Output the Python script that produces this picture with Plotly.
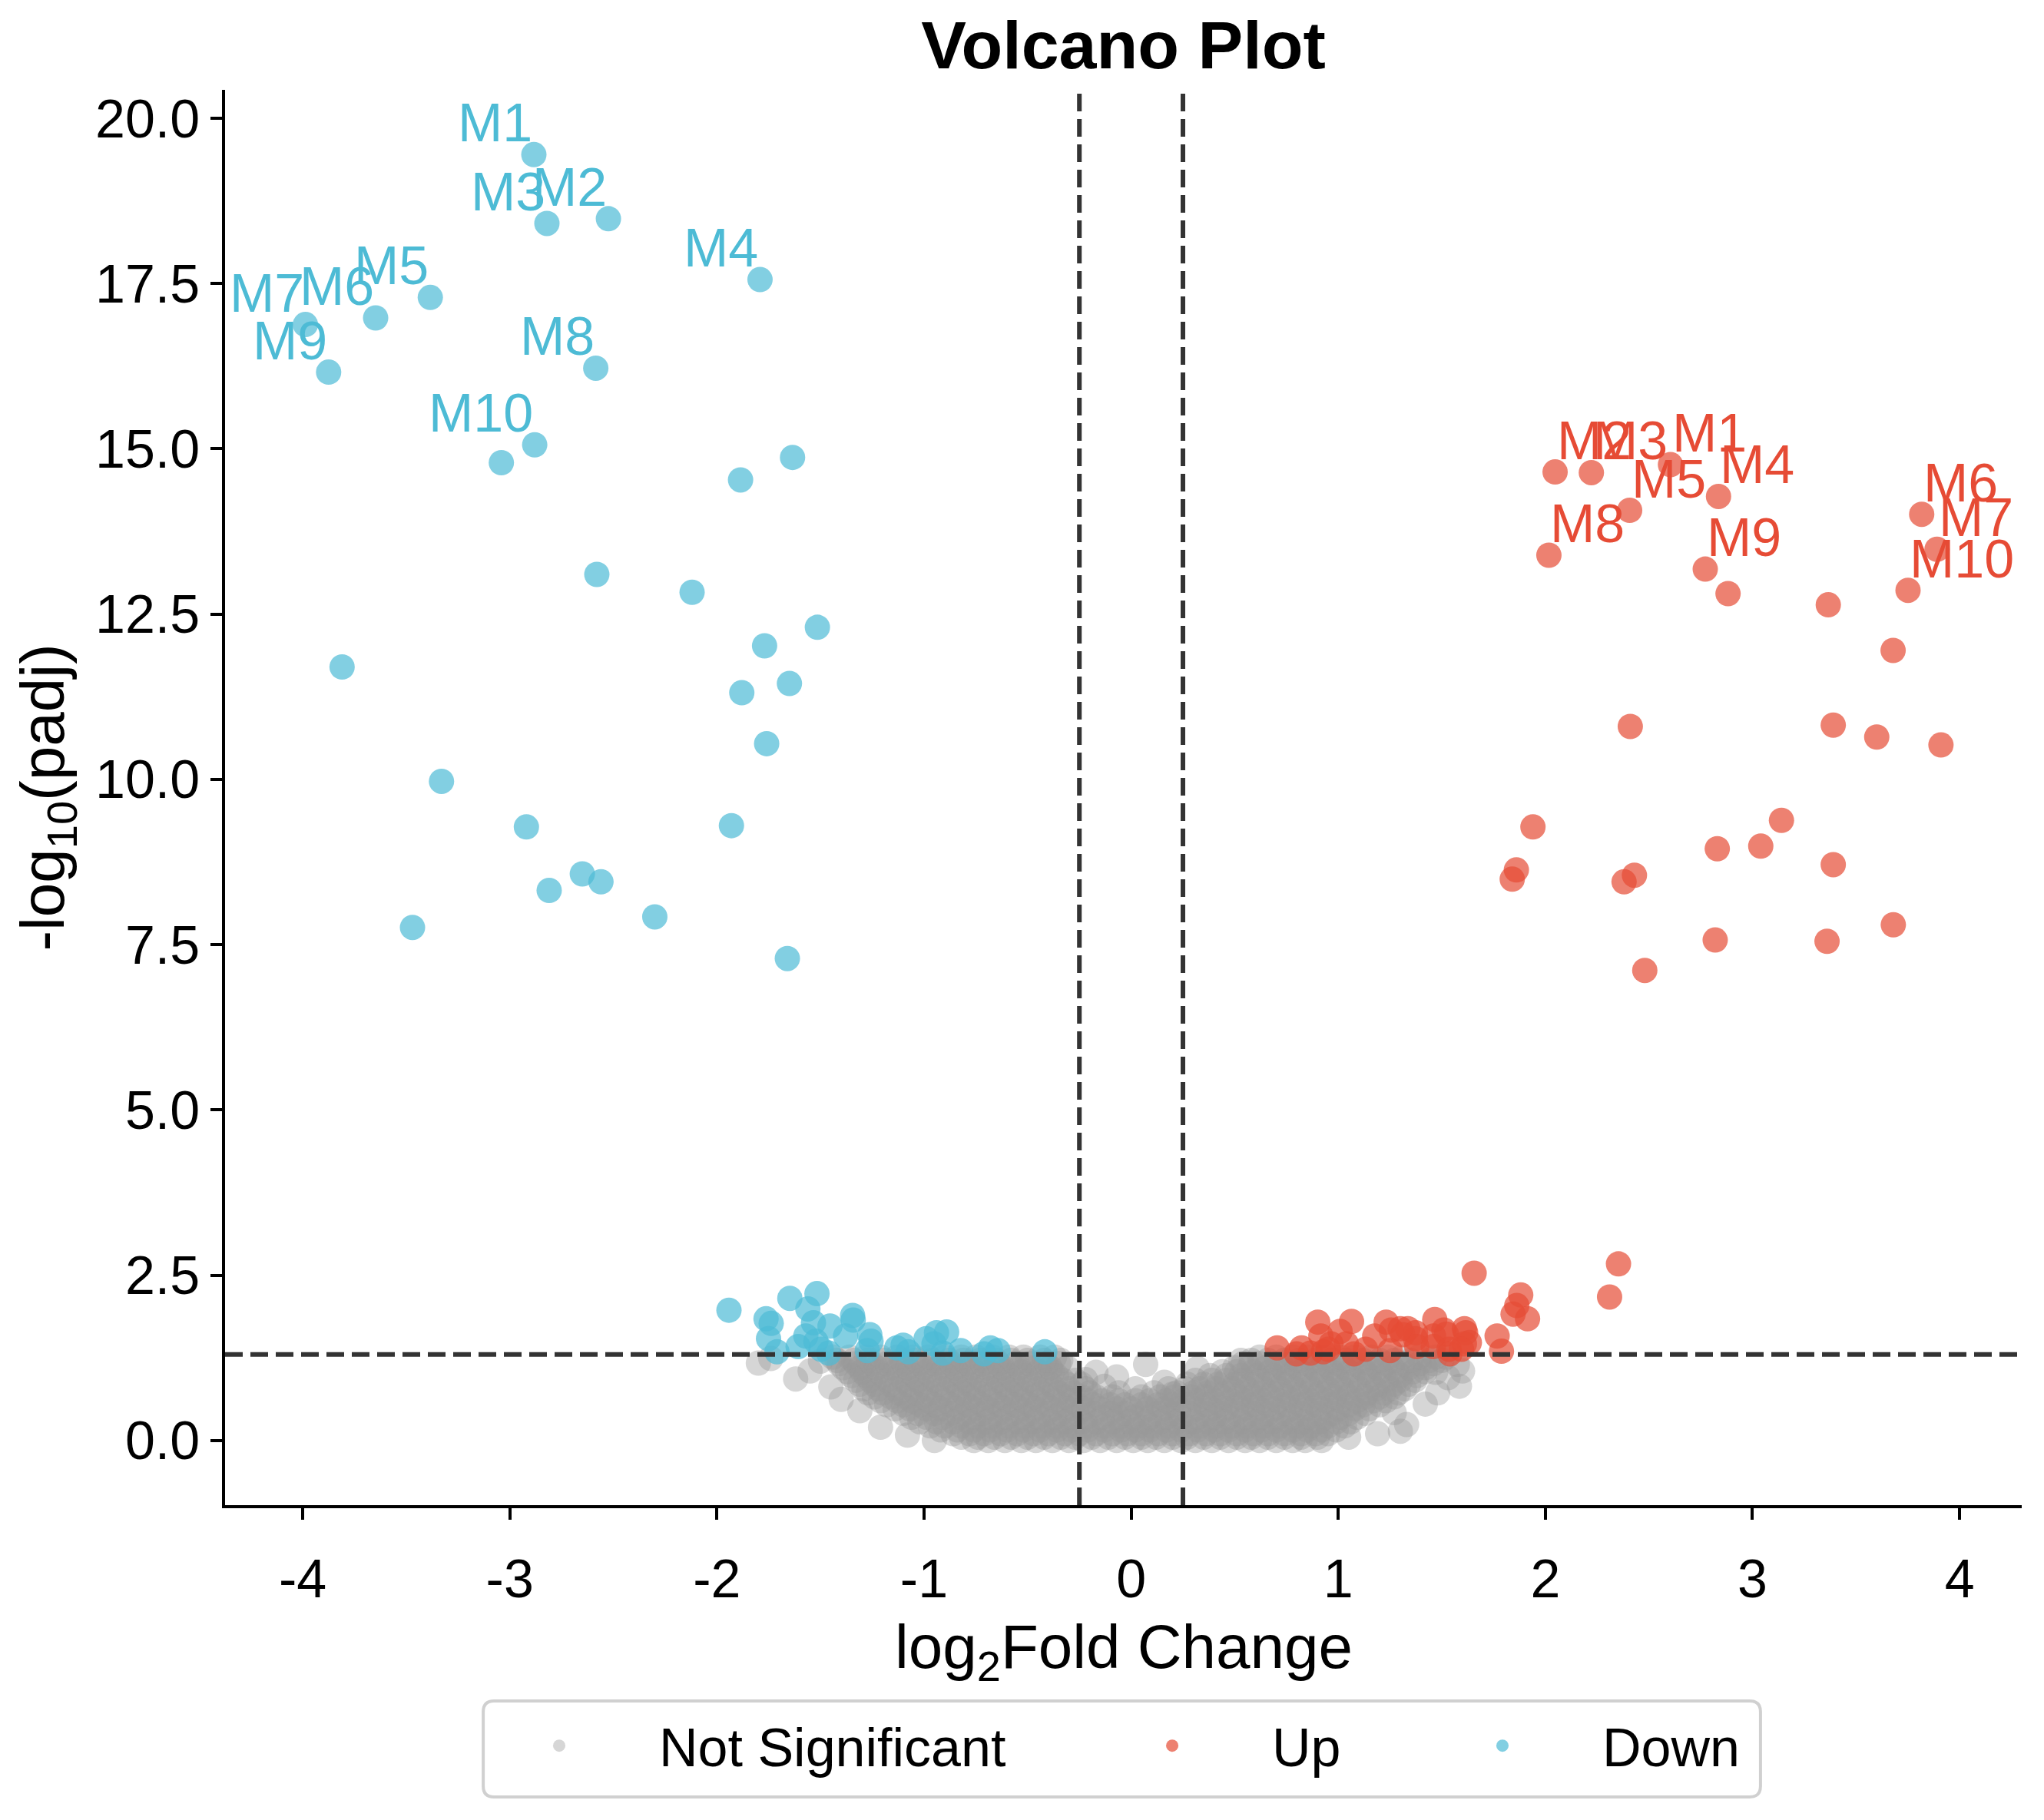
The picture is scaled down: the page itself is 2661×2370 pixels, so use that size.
import plotly.graph_objects as go

# ---------------- data ----------------
label_names = ["M1", "M2", "M3", "M4", "M5", "M6", "M7", "M8", "M9", "M10"]

# Down-regulated (first 10 are the labelled M1..M10)
down_x = [-2.884, -2.524, -2.821, -1.792, -3.384, -3.648, -3.987, -2.585, -3.875, -2.880,
          -3.041, -1.635, -1.886, -2.58, -2.12, -1.515, -1.77, -3.81, -1.65, -1.88,
          -1.76, -3.33, -2.92, -1.93, -2.65, -2.56, -2.81, -2.30, -3.47, -1.66,
          -1.942, -1.763, -1.738, -1.648, -1.517, -1.561, -1.751, -1.710, -1.534, -1.454,
          -1.345, -1.342, -1.379, -1.571, -1.608, -1.522, -1.497, -1.460, -1.262, -1.256,
          -1.274, -1.132, -1.101, -1.076, -0.990, -0.940, -0.891, -0.952, -0.909, -0.823,
          -0.680, -0.643, -0.711, -0.417]
down_y = [19.45, 18.48, 18.41, 17.56, 17.29, 16.98, 16.88, 16.22, 16.16, 15.06,
          14.79, 14.87, 14.53, 13.10, 12.83, 12.30, 12.02, 11.70, 11.45, 11.31,
          10.54, 9.97, 9.28, 9.30, 8.57, 8.45, 8.32, 7.92, 7.76, 7.29,
          1.97, 1.84, 1.77, 2.15, 2.22, 1.99, 1.54, 1.34, 1.78, 1.73,
          1.89, 1.82, 1.58, 1.58, 1.42, 1.50, 1.38, 1.32, 1.60, 1.50,
          1.36, 1.40, 1.44, 1.34, 1.54, 1.63, 1.64, 1.46, 1.32, 1.36,
          1.40, 1.36, 1.31, 1.34]

# Up-regulated (first 10 are the labelled M1..M10)
up_x = [2.604, 2.047, 2.222, 2.836, 2.407, 3.817, 3.891, 2.017, 2.772, 3.751,
        2.882, 3.366, 3.679, 2.41, 3.39, 3.60, 3.91, 3.14, 1.94, 2.83,
        3.04, 1.86, 1.84, 2.38, 2.43, 3.39, 3.68, 2.82, 3.36, 2.48,
        1.656, 2.353, 2.310, 1.881, 1.862, 1.844, 1.914, 1.767, 1.788, 1.615,
        1.633, 1.522, 0.705, 0.823, 0.798, 0.901, 0.916, 1.009, 1.064, 1.076,
        1.039, 0.928, 0.965, 1.132, 1.176, 1.231, 1.256, 1.250, 1.336, 1.373,
        1.466, 1.460, 1.510, 1.535, 1.609, 1.609, 1.373, 1.299, 0.866, 0.952,
        1.311, 1.379, 1.459, 1.539, 1.595]
up_y = [14.76, 14.65, 14.64, 14.28, 14.07, 14.01, 13.48, 13.39, 13.18, 12.86,
        12.81, 12.64, 11.95, 10.80, 10.82, 10.64, 10.52, 9.38, 9.28, 8.95,
        8.99, 8.63, 8.49, 8.45, 8.55, 8.71, 7.80, 7.57, 7.55, 7.11,
        2.53, 2.67, 2.17, 2.20, 2.04, 1.91, 1.84, 1.58, 1.35, 1.63,
        1.48, 1.61, 1.40, 1.40, 1.31, 1.79, 1.58, 1.65, 1.80, 1.31,
        1.46, 1.34, 1.46, 1.38, 1.58, 1.79, 1.67, 1.36, 1.69, 1.54,
        1.83, 1.58, 1.67, 1.38, 1.69, 1.46, 1.63, 1.69, 1.32, 1.38,
        1.60, 1.42, 1.42, 1.31, 1.38]

# Not significant: dense cloud, read band by band (y level, x positions)
ns_row_y = [0.00, 0.05, 0.10, 0.16, 0.22, 0.28, 0.35, 0.41, 0.48, 0.54, 0.60,
            0.66, 0.72, 0.78, 0.85, 0.91, 0.98, 1.04, 1.10, 1.16, 1.21, 1.26]
ns_row_x = [
    [-0.76, -0.69, -0.61, -0.53, -0.46, -0.38, -0.30, -0.23, -0.15, -0.07, 0.01, 0.08, 0.16, 0.24,
     0.31, 0.39, 0.47, 0.55, 0.62, 0.70, 0.78, 0.84],
    [-0.82, -0.74, -0.66, -0.58, -0.50, -0.42, -0.34, -0.27, -0.19, -0.11, -0.03, 0.05, 0.12, 0.20,
     0.27, 0.35, 0.43, 0.51, 0.58, 0.66, 0.74, 0.82, 0.90],
    [-0.86, -0.78, -0.71, -0.63, -0.55, -0.47, -0.40, -0.32, -0.25, -0.17, -0.09, -0.02, 0.05, 0.13,
     0.20, 0.28, 0.36, 0.43, 0.51, 0.59, 0.66, 0.74, 0.82, 0.89, 0.95],
    [-0.92, -0.84, -0.76, -0.68, -0.60, -0.52, -0.44, -0.36, -0.29, -0.21, -0.13, -0.05, 0.02, 0.09,
     0.17, 0.24, 0.32, 0.40, 0.47, 0.55, 0.63, 0.70, 0.78, 0.85, 0.92, 0.99],
    [-0.97, -0.90, -0.82, -0.74, -0.67, -0.59, -0.51, -0.43, -0.36, -0.28, -0.21, -0.13, -0.05, 0.03,
     0.10, 0.18, 0.26, 0.33, 0.41, 0.49, 0.56, 0.64, 0.72, 0.80, 0.87, 0.95, 1.03],
    [-1.02, -0.94, -0.86, -0.78, -0.70, -0.63, -0.55, -0.47, -0.39, -0.32, -0.24, -0.17, -0.09, -0.01,
     0.07, 0.14, 0.22, 0.30, 0.37, 0.45, 0.53, 0.60, 0.68, 0.76, 0.83, 0.91, 0.99, 1.06],
    [-1.06, -0.99, -0.91, -0.83, -0.76, -0.68, -0.60, -0.52, -0.45, -0.37, -0.29, -0.22, -0.14, -0.06,
     0.01, 0.09, 0.17, 0.24, 0.32, 0.40, 0.47, 0.55, 0.63, 0.71, 0.78, 0.86, 0.94, 1.01, 1.09],
    [-1.10, -1.03, -0.95, -0.87, -0.80, -0.72, -0.64, -0.57, -0.49, -0.41, -0.34, -0.26, -0.18, -0.10,
     -0.03, 0.05, 0.13, 0.20, 0.28, 0.36, 0.43, 0.51, 0.59, 0.66, 0.74, 0.82, 0.90, 0.97, 1.05, 1.13],
    [-1.14, -1.07, -0.99, -0.92, -0.84, -0.76, -0.69, -0.61, -0.53, -0.46, -0.38, -0.30, -0.23, -0.15,
     -0.07, 0.00, 0.08, 0.16, 0.23, 0.31, 0.39, 0.46, 0.54, 0.62, 0.69, 0.77, 0.85, 0.92, 1.00, 1.08, 1.15],
    [-1.18, -1.10, -1.02, -0.95, -0.87, -0.79, -0.72, -0.64, -0.56, -0.49, -0.41, -0.33, -0.26, -0.18,
     -0.10, -0.03, 0.05, 0.13, 0.20, 0.28, 0.36, 0.43, 0.51, 0.59, 0.66, 0.74, 0.82, 0.89, 0.97, 1.05,
     1.12, 1.20],
    [-1.21, -1.13, -1.06, -0.98, -0.90, -0.83, -0.75, -0.67, -0.60, -0.52, -0.44, -0.37, -0.29, -0.21,
     -0.14, -0.06, 0.02, 0.09, 0.17, 0.25, 0.32, 0.40, 0.48, 0.55, 0.63, 0.71, 0.78, 0.86, 0.94, 1.01,
     1.09, 1.17, 1.23],
    [-1.24, -1.16, -1.09, -1.01, -0.93, -0.86, -0.78, -0.70, -0.63, -0.55, -0.47, -0.40, -0.32, -0.24,
     -0.17, -0.09, 0.05, 0.14, 0.21, 0.29, 0.36, 0.44, 0.52, 0.59, 0.67, 0.75, 0.82, 0.90, 0.98, 1.05,
     1.13, 1.20, 1.27],
    [-1.27, -1.20, -1.12, -1.04, -0.97, -0.89, -0.81, -0.74, -0.66, -0.58, -0.51, -0.43, -0.35, -0.28,
     -0.20, -0.06, 0.11, 0.22, 0.30, 0.37, 0.45, 0.53, 0.60, 0.68, 0.76, 0.83, 0.91, 0.99, 1.06, 1.14,
     1.22, 1.29],
    [-1.29, -1.22, -1.14, -1.06, -0.99, -0.91, -0.83, -0.76, -0.68, -0.60, -0.53, -0.45, -0.37, -0.30,
     -0.22, 0.18, 0.26, 0.33, 0.41, 0.49, 0.56, 0.64, 0.72, 0.79, 0.87, 0.95, 1.02, 1.10, 1.18, 1.25, 1.32],
    [-1.31, -1.24, -1.16, -1.08, -1.01, -0.93, -0.85, -0.78, -0.70, -0.62, -0.55, -0.47, -0.39, -0.31,
     -0.24, 0.27, 0.35, 0.42, 0.50, 0.58, 0.65, 0.73, 0.81, 0.88, 0.96, 1.04, 1.11, 1.19, 1.27, 1.34],
    [-1.33, -1.26, -1.18, -1.10, -1.03, -0.95, -0.87, -0.80, -0.72, -0.64, -0.57, -0.49, -0.41, -0.33,
     -0.27, 0.31, 0.39, 0.46, 0.54, 0.62, 0.69, 0.77, 0.85, 0.92, 1.00, 1.08, 1.15, 1.23, 1.30, 1.37],
    [-1.35, -1.28, -1.20, -1.12, -1.05, -0.97, -0.89, -0.82, -0.74, -0.66, -0.59, -0.51, -0.43, -0.36,
     0.38, 0.46, 0.53, 0.61, 0.69, 0.76, 0.84, 0.92, 0.99, 1.07, 1.15, 1.22, 1.30, 1.38],
    [-1.37, -1.30, -1.22, -1.14, -1.07, -0.99, -0.91, -0.84, -0.76, -0.68, -0.61, -0.53, -0.45, -0.38,
     0.44, 0.51, 0.59, 0.67, 0.74, 0.82, 0.90, 0.97, 1.05, 1.13, 1.20, 1.28, 1.36, 1.42],
    [-1.39, -1.31, -1.23, -1.16, -1.08, -1.00, -0.93, -0.85, -0.77, -0.70, -0.62, -0.54, -0.47, -0.39,
     -0.31, 0.50, 0.57, 0.65, 0.73, 0.80, 0.88, 0.96, 1.03, 1.11, 1.19, 1.26, 1.34, 1.42],
    [-1.41, -1.33, -1.25, -1.18, -1.10, -1.02, -0.95, -0.87, -0.79, -0.72, -0.64, -0.56, -0.49, -0.41,
     -0.35, 0.54, 0.62, 0.70, 0.77, 0.85, 0.93, 1.00, 1.08, 1.16, 1.23, 1.31, 1.39, 1.46],
    [-1.42, -1.34, -1.27, -1.19, -1.11, -1.04, -0.96, -0.88, -0.81, -0.73, -0.65, -0.58, -0.50, -0.42,
     -0.34, 0.58, 0.66, 0.74, 0.81, 0.89, 0.97, 1.04, 1.12, 1.20, 1.27, 1.35, 1.44, 1.50],
    [-1.44, -1.36, -1.28, -1.21, -1.13, -1.05, -0.98, -0.90, -0.82, -0.75, -0.67, -0.59, -0.52, -0.44,
     -0.37, 0.62, 0.70, 0.78, 0.85, 0.93, 1.01, 1.08, 1.16, 1.24, 1.31, 1.39, 1.47, 1.52],
]
# scattered, isolated not-significant points
ns_extra_x = [-1.80, -1.74, -1.62, -1.55, -1.45, -1.31, -1.21, -1.08, -0.95, -1.50, -1.40,
              -0.17, -0.07, 0.07, 0.32, 0.53, -0.13, 0.02, 0.16, -0.22, 0.20,
              0.92, 1.05, 1.19, 1.30, 1.27, 1.33, 1.48, 1.585, 1.47, 1.575, 1.53, 1.42, 1.60]
ns_extra_y = [1.17, 1.24, 0.93, 1.05, 0.81, 0.45, 0.20, 0.08, 0.00, 1.20, 0.62,
              1.03, 0.96, 1.15, 1.09, 1.21, 0.82, 0.78, 0.88, 0.92, 0.70,
              0.00, 0.05, 0.10, 0.14, 0.42, 0.24, 0.72, 0.82, 1.03, 1.15, 0.95, 0.55, 1.05]

lfc_threshold = 0.25
padj_line = 1.301  # -log10(0.05)

x_ticks = [-4, -3, -2, -1, 0, 1, 2, 3, 4]
x_tick_labels = ["-4", "-3", "-2", "-1", "0", "1", "2", "3", "4"]
y_ticks = [0, 2.5, 5, 7.5, 10, 12.5, 15, 17.5, 20]
y_tick_labels = ["0.0", "2.5", "5.0", "7.5", "10.0", "12.5", "15.0", "17.5", "20.0"]

# ---------------- build ----------------
ns_x, ns_y = [], []
for yv, xs in zip(ns_row_y, ns_row_x):
    ns_x.extend(xs)
    ns_y.extend([yv] * len(xs))
ns_x.extend(ns_extra_x)
ns_y.extend(ns_extra_y)

FONT = "Liberation Sans, Arial, Helvetica, sans-serif"
RED = "#E64B35"
BLUE = "#4DBBD5"
MS = 33

fig = go.Figure()
fig.add_trace(go.Scatter(x=ns_x, y=ns_y, mode="markers", name="Not Significant", legend="legend",
                         marker=dict(color="#999999", opacity=0.4, size=MS, line=dict(width=0))))
fig.add_trace(go.Scatter(x=up_x, y=up_y, mode="markers", name="Up", legend="legend2",
                         marker=dict(color=RED, opacity=0.7, size=MS, line=dict(width=0))))
fig.add_trace(go.Scatter(x=down_x, y=down_y, mode="markers", name="Down", legend="legend3",
                         marker=dict(color=BLUE, opacity=0.7, size=MS, line=dict(width=0))))

annotations = []
for i, nm in enumerate(label_names):
    annotations.append(dict(x=down_x[i], y=down_y[i], xref="x", yref="y", text=nm,
                            showarrow=False, xanchor="right", yanchor="bottom",
                            font=dict(family=FONT, size=70, color=BLUE)))
    annotations.append(dict(x=up_x[i], y=up_y[i], xref="x", yref="y", text=nm,
                            showarrow=False, xanchor="left", yanchor="bottom",
                            font=dict(family=FONT, size=70, color=RED)))

# x-axis title (placed as an annotation for exact spacing)
annotations.append(dict(x=0.5, y=-0.075, xref="paper", yref="paper", xanchor="center", yanchor="top",
                        text="log<sub>2</sub>Fold Change", showarrow=False,
                        font=dict(family=FONT, size=80, color="black")))

dash_line = dict(color="#333333", width=6, dash="23px,10px")

# legend frame (rounded box)
bx0, bx1, by0, by1 = 0.1437, 0.8546, -0.1384, -0.2062
rx, ry = 0.006, 0.0076
frame_path = (f"M {bx0+rx},{by0} L {bx1-rx},{by0} Q {bx1},{by0} {bx1},{by0-ry} "
              f"L {bx1},{by1+ry} Q {bx1},{by1} {bx1-rx},{by1} L {bx0+rx},{by1} "
              f"Q {bx0},{by1} {bx0},{by1+ry} L {bx0},{by0-ry} Q {bx0},{by0} {bx0+rx},{by0} Z")

shapes = [
    dict(type="line", xref="x", yref="paper", x0=-lfc_threshold, x1=-lfc_threshold, y0=0, y1=1,
         line=dash_line, layer="above"),
    dict(type="line", xref="x", yref="paper", x0=lfc_threshold, x1=lfc_threshold, y0=0, y1=1,
         line=dash_line, layer="above"),
    dict(type="line", xref="paper", yref="y", x0=0, x1=1, y0=padj_line, y1=padj_line,
         line=dash_line, layer="above"),
    dict(type="path", xref="paper", yref="paper", path=frame_path,
         line=dict(color="#d0d0d0", width=4), fillcolor="rgba(0,0,0,0)", layer="below"),
]

axis_common = dict(showgrid=False, zeroline=False, showline=True, linecolor="black", linewidth=3.5,
                   ticks="outside", ticklen=15, tickwidth=3.5, tickcolor="black",
                   tickfont=dict(family=FONT, size=70, color="black"), mirror=False)

legend_common = dict(orientation="h", xanchor="left", y=-0.1417, yanchor="top",
                     borderwidth=0, bgcolor="rgba(0,0,0,0)", visible=True,
                     font=dict(family=FONT, size=70, color="black"), itemwidth=250)

fig.update_layout(
    width=2661, height=2370,
    margin=dict(l=285, r=37, t=109, b=418),
    plot_bgcolor="white", paper_bgcolor="white",
    font=dict(family=FONT, size=70, color="black"),
    showlegend=True,
    title=dict(text="Volcano Plot", x=0.5, xref="paper", xanchor="center",
               y=0.966, yref="container", yanchor="bottom",
               font=dict(family=FONT, size=88, color="black", weight="bold")),
    xaxis=dict(range=[-4.375, 4.30], tickvals=x_ticks, ticktext=x_tick_labels,
               ticklabelstandoff=17, **axis_common),
    yaxis=dict(range=[-0.979, 20.43], tickvals=y_ticks, ticktext=y_tick_labels,
               title=dict(text="-log<sub>10</sub>(padj)", standoff=15,
                          font=dict(family=FONT, size=80, color="black")),
               **axis_common),
    legend=dict(x=0.1304, **legend_common),
    legend2=dict(x=0.4716, **legend_common),
    legend3=dict(x=0.6554, **legend_common),
    annotations=annotations,
    shapes=shapes,
)

fig.write_html("out.html")
